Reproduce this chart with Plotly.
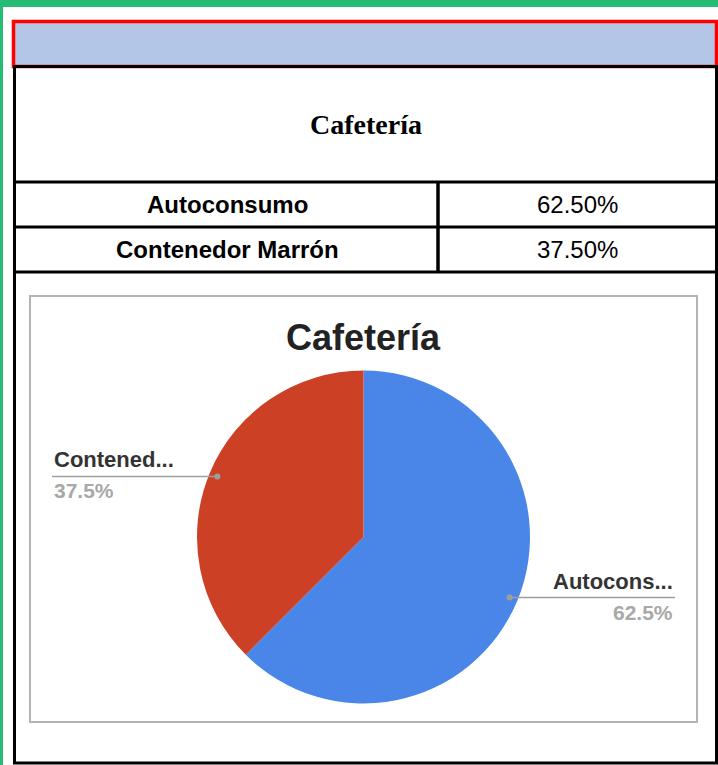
import math
import plotly.graph_objects as go

W, H = 718, 765

# ---- data ----
title = "Cafetería"
categories = ["Autoconsumo", "Contenedor Marrón"]
values = [62.5, 37.5]
short_labels = ["Autocons...", "Contened..."]
colors = ["#4A86E8", "#CC4125"]


def X(px):
    return px / W


def Y(py):
    return 1 - py / H


shapes = []
annotations = []


def rect(x0, y0, x1, y1, fill=None, line_color=None, lw=0, layer="above"):
    d = dict(type="rect", xref="paper", yref="paper",
             x0=X(x0), x1=X(x1), y0=Y(y1), y1=Y(y0), layer=layer,
             line=dict(width=lw, color=line_color or "rgba(0,0,0,0)"))
    if fill:
        d["fillcolor"] = fill
    shapes.append(d)


def line(x0, y0, x1, y1, color, lw, layer="above"):
    shapes.append(dict(type="line", xref="paper", yref="paper",
                       x0=X(x0), x1=X(x1), y0=Y(y0), y1=Y(y1), layer=layer,
                       line=dict(width=lw, color=color)))


def text(x, y, s, size, color="#000", family="Liberation Sans", xanchor="center",
         yanchor="middle", bold=False):
    annotations.append(dict(xref="paper", yref="paper", x=X(x), y=Y(y), text=s,
                            showarrow=False, xanchor=xanchor, yanchor=yanchor,
                            font=dict(size=size, color=color, family=family,
                                      weight="bold" if bold else "normal")))


# page background
rect(0, 0, W, H, fill="#27BC76", layer="below")
rect(3, 7, W, H, fill="#FFFFFF", layer="below")

# header band with red border
rect(13.5, 21.5, 716.5, 66.5, fill="#B4C6E7", line_color="#FF0000", lw=3.5)

# table structure
rect(14.5, 66.5, 716.5, 763, line_color="#000000", lw=3)
row_lines = [182, 227, 272]
for yy in row_lines:
    line(14.5, yy, 716.5, yy, "#000000", 3)
line(438, 182, 438, 272, "#000000", 3.5)

# table title
text(366, 125, title, 28, family="Liberation Serif", bold=True)

# table rows
total = sum(values)
row_centers = [204.5, 249.5]
for cat, v, yc in zip(categories, values, row_centers):
    text(228, yc, cat, 24, bold=True)
    text(577, yc, f"{v / total * 100:.2f}%", 24)

# chart box
rect(30, 296, 697, 722, line_color="#B4B4B4", lw=2)
text(363.5, 337, title, 36, color="#222222", bold=True)

# pie
cx, cy, r = 363.5, 537, 166.5
fig = go.Figure(go.Pie(
    labels=categories, values=values, sort=False, direction="clockwise",
    rotation=0, marker=dict(colors=colors, line=dict(width=0)),
    textinfo="none", hoverinfo="label+percent", showlegend=False,
    domain=dict(x=[X(cx - r), X(cx + r)], y=[Y(cy + r), Y(cy - r)]),
))

# leader lines / labels derived from the data
cum = 0.0
for lab, v in zip(short_labels, values):
    mid = (cum + v / 2) / total
    cum += v
    th = 2 * math.pi * mid
    px = cx + 0.95 * r * math.sin(th)
    py = cy - 0.95 * r * math.cos(th)
    right = math.sin(th) > 0
    xe = 675 if right else 52
    line(px, py, xe, py, "#9E9E9E", 1.5)
    shapes.append(dict(type="circle", xref="paper", yref="paper",
                       x0=X(px - 3), x1=X(px + 3), y0=Y(py + 3), y1=Y(py - 3),
                       fillcolor="#9E9E9E", line=dict(width=0)))
    anc = "right" if right else "left"
    text(xe, py - 2, lab, 22, color="#333333", xanchor=anc, yanchor="bottom", bold=True)
    text(xe, py + 1, f"{v / total * 100:.1f}%", 21, color="#A8A8A8", xanchor=anc,
         yanchor="top", bold=True)

fig.update_layout(
    width=W, height=H, margin=dict(l=0, r=0, t=0, b=0),
    paper_bgcolor="#FFFFFF", plot_bgcolor="#FFFFFF",
    shapes=shapes, annotations=annotations,
)

fig.write_html(
    "out.html",
    config={"displayModeBar": False},
    post_script="document.body.style.margin='0';document.body.style.overflow='hidden';",
)
